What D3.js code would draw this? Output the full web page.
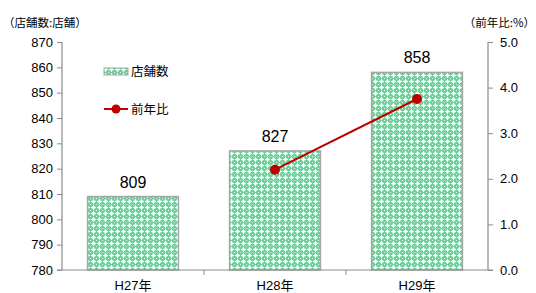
<!DOCTYPE html>
<html><head><meta charset="utf-8">
<script src="https://cdn.jsdelivr.net/npm/d3@7"></script>
<style>
body{margin:0;background:#fff;}
text{font-family:"Liberation Sans","Noto Sans CJK JP",Arial,sans-serif;fill:#000;}
</style></head><body>
<svg id="c" width="536" height="293"></svg>
<script>
const categories = ["H27年","H28年","H29年"];
const storeCounts = [809, 827, 858];
const yoyGrowth = [null, 2.2, 3.75];
const leftTicks = [780,790,800,810,820,830,840,850,860,870];
const rightTicks = [0,1,2,3,4,5];
const leftTitle = "（店舗数:店舗）";
const rightTitle = "（前年比:%）";
const legendLabels = ["店舗数","前年比"];

const svg = d3.select("#c");
const m = {l:62, r:488, t:42, b:270};

const defs = svg.append("defs");
const pat = defs.append("pattern").attr("id","pt").attr("patternUnits","userSpaceOnUse")
  .attr("width",6).attr("height",6);
pat.append("rect").attr("width",6).attr("height",6).attr("fill","#6fd29d");
pat.append("rect").attr("x",1).attr("y",3).attr("width",5).attr("height",1).attr("fill","#fff");
pat.append("rect").attr("x",3).attr("y",1).attr("width",1).attr("height",5).attr("fill","#fff");
pat.append("rect").attr("x",2).attr("y",2).attr("width",3).attr("height",3).attr("fill","#fff").attr("opacity",0.6);
pat.append("rect").attr("x",0).attr("y",0).attr("width",1).attr("height",1).attr("fill","#d6f4e3");

const x = d3.scaleBand().domain(categories).range([m.l,m.r]).paddingInner(0.36).paddingOuter(0.18);
const xb = d3.scaleBand().domain(categories).range([m.l,m.r]);
const y = d3.scaleLinear().domain([780,870]).range([m.b,m.t]);
const y2 = d3.scaleLinear().domain([0,5]).range([m.b,m.t]);

// bars
svg.append("g").selectAll("rect").data(categories).join("rect")
  .attr("x",d=>x(d)).attr("width",x.bandwidth())
  .attr("y",(d,i)=>y(storeCounts[i])).attr("height",(d,i)=>y(780)-y(storeCounts[i]))
  .attr("fill","url(#pt)").attr("stroke","#a6a6a6").attr("stroke-width",1.5);

// value labels
svg.append("g").selectAll("text").data(categories).join("text")
  .attr("x",d=>x(d)+x.bandwidth()/2).attr("y",(d,i)=>y(storeCounts[i])-9)
  .attr("text-anchor","middle").attr("font-size",16).text((d,i)=>storeCounts[i]);

// axes
const axL = d3.axisLeft(y).tickValues(leftTicks).tickSize(5).tickPadding(4).tickFormat(d3.format("d"));
const gL = svg.append("g").attr("transform",`translate(${m.l},0)`).call(axL);
const axR = d3.axisRight(y2).tickValues(rightTicks).tickSize(5).tickPadding(7).tickFormat(d3.format(".1f"));
const gR = svg.append("g").attr("transform",`translate(${m.r},0)`).call(axR);
const axB = d3.axisBottom(xb).tickSize(0).tickPadding(11);
const gB = svg.append("g").attr("transform",`translate(0,${m.b})`).call(axB);
[gL,gR,gB].forEach(g=>{
  g.select(".domain").attr("stroke","#8c8c8c").attr("stroke-width",1.2);
  g.selectAll(".tick line").attr("stroke","#8c8c8c");
  g.selectAll("text").attr("font-size",13).attr("fill","#000")
   .style("font-family",'"Liberation Sans","Noto Sans CJK JP",sans-serif');
});
gB.selectAll("text").attr("font-size",13);
// category separators
svg.append("g").selectAll("line").data(categories.slice(1)).join("line")
  .attr("x1",d=>xb(d)).attr("x2",d=>xb(d)).attr("y1",m.b).attr("y2",m.b+5)
  .attr("stroke","#8c8c8c");
gL.select(".domain").attr("d",`M0,${m.b}V${m.t}`);
gR.select(".domain").attr("d",`M0,${m.b}V${m.t}`);
gB.select(".domain").attr("d",`M${m.l-5},0H${m.r+5}`);

// line
const pts = categories.map((c,i)=>({c,v:yoyGrowth[i]})).filter(d=>d.v!=null);
const line = d3.line().x(d=>xb(d.c)+xb.bandwidth()/2).y(d=>y2(d.v));
svg.append("path").datum(pts).attr("d",line).attr("fill","none").attr("stroke","#c00000").attr("stroke-width",2);
svg.append("g").selectAll("circle").data(pts).join("circle")
  .attr("cx",d=>xb(d.c)+xb.bandwidth()/2).attr("cy",d=>y2(d.v)).attr("r",5).attr("fill","#c00000");

// titles
svg.append("text").attr("x",3).attr("y",27).attr("font-size",11.5).text(leftTitle)
  .style("font-family",'"Noto Sans CJK JP",sans-serif');
svg.append("text").attr("x",535).attr("y",27).attr("text-anchor","end").attr("font-size",11.5).text(rightTitle)
  .style("font-family",'"Noto Sans CJK JP",sans-serif');

// legend
const lg = svg.append("g");
lg.append("rect").attr("x",104).attr("y",68).attr("width",24).attr("height",7).attr("fill","url(#pt)").attr("stroke","#a6a6a6").attr("stroke-width",1);
lg.append("text").attr("x",131).attr("y",76).attr("font-size",12.5).text(legendLabels[0])
  .style("font-family",'"Noto Sans CJK JP",sans-serif');
lg.append("line").attr("x1",104).attr("x2",128).attr("y1",109).attr("y2",109).attr("stroke","#c00000").attr("stroke-width",2);
lg.append("circle").attr("cx",116).attr("cy",109).attr("r",4.5).attr("fill","#c00000");
lg.append("text").attr("x",131).attr("y",114).attr("font-size",12.5).text(legendLabels[1])
  .style("font-family",'"Noto Sans CJK JP",sans-serif');
</script></body></html>
